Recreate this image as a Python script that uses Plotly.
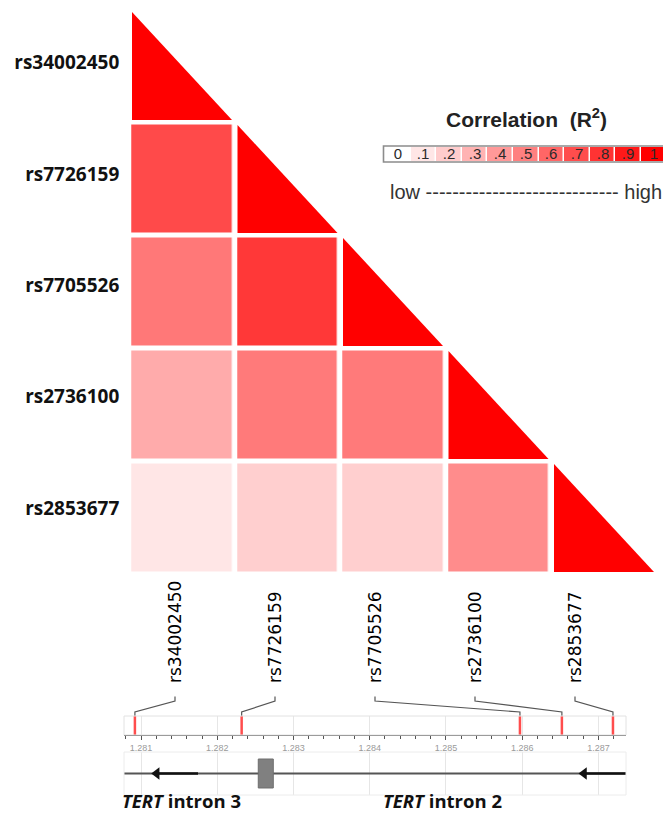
import plotly.graph_objects as go
from plotly.colors import sample_colorscale

# ---- data -------------------------------------------------------------
snps = ["rs34002450", "rs7726159", "rs7705526", "rs2736100", "rs2853677"]

# pairwise LD (R^2), lower triangle incl. diagonal; None = not drawn
ld_r2 = [
    [1.00, None, None, None, None],
    [0.71, 1.00, None, None, None],
    [0.53, 0.78, 1.00, None, None],
    [0.33, 0.52, 0.52, 1.00, None],
    [0.10, 0.19, 0.19, 0.45, 1.00],
]

# genomic positions (Mb, chr5)
snp_pos = [1.28092, 1.28232, 1.28597, 1.28652, 1.28719]
exons = [(1.282538, 1.282735)]
gene_span = (1.2530, 1.2950)
strand_arrows = [(1.281748, 1.281206), (1.287361, 1.286810)]  # (tail, head), minus strand

key_values = [0, 0.1, 0.2, 0.3, 0.4, 0.5, 0.6, 0.7, 0.8, 0.9, 1.0]
key_labels = ["0", ".1", ".2", ".3", ".4", ".5", ".6", ".7", ".8", ".9", "1"]

# ---- layout helpers ---------------------------------------------------
W, H = 663, 814
def fx(p):
    return p / W
def fy(p):
    return 1 - p / H

SCALE = [[0, "#ffffff"], [1, "#ff0000"]]
n = len(snps)

# matrix block geometry (pixels)
MX0, MX1 = 129.25, 656.75
MY0, MY1 = 9.5, 574.5
XGAP, YGAP = 5.5, 5.0
hx = (XGAP / 2) / ((MX1 - MX0) / n)
hy = (YGAP / 2) / ((MY1 - MY0) / n)

# genome track geometry
GX0, GX1 = 124, 626
G_RANGE = [1.280777, 1.287361]

fig = go.Figure()

# off-diagonal LD cells
z = [[(v if (v is not None and i != j) else None) for i, v in enumerate(row)]
     for j, row in enumerate(ld_r2)]
fig.add_trace(go.Heatmap(
    z=z, x=list(range(n)), y=list(range(n)),
    colorscale=SCALE, zmin=0, zmax=1, showscale=False,
    xgap=XGAP, ygap=YGAP, hoverinfo="skip",
    xaxis="x", yaxis="y",
))

# diagonal cells as lower-left triangles
for i in range(n):
    v = ld_r2[i][i]
    col = sample_colorscale(SCALE, [v])[0]
    l, r = i - 0.5 + hx, i + 0.5 - hx
    t, b = i - 0.5 + hy, i + 0.5 - hy
    fig.add_trace(go.Scatter(
        x=[l, l, r, l], y=[t, b, b, t], mode="lines",
        fill="toself", fillcolor=col, line=dict(width=0, color=col),
        hoverinfo="skip", showlegend=False, xaxis="x", yaxis="y",
    ))

# row-label axis carrier
fig.add_trace(go.Scatter(x=[None], y=[None], mode="markers", showlegend=False,
                         hoverinfo="skip", xaxis="x", yaxis="y7"))

# colour key
fig.add_trace(go.Heatmap(
    z=[key_values], x=list(range(len(key_values))), y=[0],
    text=[key_labels], texttemplate="%{text}",
    textfont=dict(family="Liberation Sans, Arial", size=15, color="#2a2a2a"),
    colorscale=SCALE, zmin=0, zmax=1, showscale=False,
    xgap=1.5, hoverinfo="skip", xaxis="x3", yaxis="y3",
))

# SNP marks on the genome axis
mx, my = [], []
for p in snp_pos:
    mx += [p, p, None]
    my += [0, 1, None]
fig.add_trace(go.Scatter(x=mx, y=my, mode="lines",
                         line=dict(color="#ff4d4d", width=2.5),
                         hoverinfo="skip", showlegend=False,
                         xaxis="x4", yaxis="y4"))

# leader lines from label slots to positions
LY0, LY1 = 695, 735
def ly(p):
    return (LY1 - p) / (LY1 - LY0)
slot_lo = G_RANGE[0] + (175 - GX0) / (GX1 - GX0) * (G_RANGE[1] - G_RANGE[0])
slot_hi = G_RANGE[0] + (575 - GX0) / (GX1 - GX0) * (G_RANGE[1] - G_RANGE[0])
slots = [slot_lo + k * (slot_hi - slot_lo) / (n - 1) for k in range(n)]
for p, s in zip(snp_pos, slots):
    fig.add_trace(go.Scatter(
        x=[p, p, s, s], y=[ly(716), ly(712), ly(701), ly(696.5)],
        mode="lines", line=dict(color="#555555", width=1.2),
        hoverinfo="skip", showlegend=False, xaxis="x6", yaxis="y6"))

# gene model: intron line
fig.add_trace(go.Scatter(x=list(gene_span), y=[0.5, 0.5], mode="lines",
                         line=dict(color="#555555", width=2),
                         hoverinfo="skip", showlegend=False,
                         xaxis="x5", yaxis="y5"))

# strand direction arrows
for (tail, head) in strand_arrows:
    fig.add_trace(go.Scatter(x=[tail, head], y=[0.5, 0.5], mode="lines",
                             line=dict(color="#111111", width=2.5),
                             hoverinfo="skip", showlegend=False,
                             xaxis="x5", yaxis="y5"))
    fig.add_trace(go.Scatter(x=[head], y=[0.5], mode="markers",
                             marker=dict(symbol="triangle-left", size=11,
                                         color="#111111", line=dict(width=0)),
                             hoverinfo="skip", showlegend=False,
                             xaxis="x5", yaxis="y5"))

shapes = []
for (a, b) in exons:
    shapes.append(dict(type="rect", xref="x5", yref="y5", x0=a, x1=b,
                       y0=0.163, y1=0.837, fillcolor="#808080",
                       line=dict(color="#6e6e6e", width=1), layer="above"))
# panel frames
shapes.append(dict(type="rect", xref="x4 domain", yref="y4 domain",
                   x0=0, x1=1, y0=0, y1=1, line=dict(color="#e2e2e2", width=1)))
shapes.append(dict(type="rect", xref="x5 domain", yref="y5 domain",
                   x0=0, x1=1, y0=0, y1=1, line=dict(color="#ececec", width=1)))
# key frame
shapes.append(dict(type="rect", xref="paper", yref="paper",
                   x0=fx(383.5), x1=fx(668), y0=fy(162), y1=fy(146),
                   line=dict(color="#8c8c8c", width=1.6)))

annotations = []

# rotated SNP names above the genome track
for name, s in zip(snps, slots):
    annotations.append(dict(x=s, y=fy(685), xref="x6", yref="paper",
                            text=name, textangle=-90, showarrow=False,
                            xanchor="center", yanchor="bottom",
                            font=dict(family="DejaVu Sans", size=17, color="#000000")))

annotations += [
    dict(x=fx(526), y=fy(118), xref="paper", yref="paper", showarrow=False,
         text="<b>Correlation  (R<sup>2</sup>)</b>", xanchor="center", yanchor="middle",
         font=dict(family="Liberation Sans, Arial", size=21, color="#222222")),
    dict(x=fx(388), y=fy(192), xref="paper", yref="paper", showarrow=False,
         text="low " + "-" * 29 + " high", xanchor="left", yanchor="middle",
         font=dict(family="Liberation Sans, Arial", size=20, color="#333333")),
    dict(x=fx(121), y=0, xref="paper", yref="paper", showarrow=False,
         text="<b><i>TERT</i> intron 3</b>", xanchor="left", yanchor="bottom",
         borderpad=0,
         font=dict(family="Open Sans", size=18.5, color="#111111")),
    dict(x=fx(382), y=0, xref="paper", yref="paper", showarrow=False,
         text="<b><i>TERT</i> intron 2</b>", xanchor="left", yanchor="bottom",
         borderpad=0,
         font=dict(family="Open Sans", size=18.5, color="#111111")),
]

hidden = dict(visible=False, showgrid=False, zeroline=False)

fig.update_layout(
    width=W, height=H, margin=dict(l=0, r=0, t=0, b=0),
    paper_bgcolor="white", plot_bgcolor="rgba(0,0,0,0)",
    hovermode=False, showlegend=False,
    xaxis=dict(domain=[fx(MX0), fx(MX1)], range=[-0.5, n - 0.5], **hidden),
    yaxis=dict(domain=[fy(MY1), fy(MY0)], range=[n - 0.5, -0.5], anchor="x", **hidden),
    yaxis7=dict(domain=[fy(563.7), fy(6.8)], range=[n - 0.5, -0.5], anchor="x",
                tickvals=list(range(n)), ticktext=[f"<b>{s}</b>" for s in snps],
                tickfont=dict(family="Open Sans", size=19, color="#111111"),
                ticks="", showgrid=False, zeroline=False, showline=False,
                ticklabelstandoff=9),
    xaxis3=dict(domain=[fx(385), 1], range=[-0.5, -0.5 + (W - 385) / 25.6],
                anchor="y3", **hidden),
    yaxis3=dict(domain=[fy(161), fy(147)], range=[-0.5, 0.5], anchor="x3", **hidden),
    xaxis4=dict(domain=[fx(GX0), fx(GX1)], range=G_RANGE, anchor="y4",
                tick0=1.281, dtick=0.001, tickformat=".3f",
                ticks="outside", ticklen=4, tickcolor="#555555", tickwidth=1,
                showline=True, linecolor="#555555", linewidth=1,
                tickfont=dict(family="Liberation Sans, Arial", size=9, color="#9a9a9a"),
                showgrid=True, gridcolor="#e6e6e6", gridwidth=1, zeroline=False,
                minor=dict(dtick=0.0002, tick0=1.281, ticks="outside", ticklen=3,
                           tickcolor="#555555", showgrid=False)),
    yaxis4=dict(domain=[fy(735), fy(716)], range=[0, 1], anchor="x4", **hidden),
    xaxis5=dict(domain=[fx(GX0), fx(GX1)], matches="x4", anchor="y5",
                showticklabels=False, ticks="", showline=False,
                showgrid=True, gridcolor="#e6e6e6", gridwidth=1, zeroline=False),
    yaxis5=dict(domain=[fy(795), fy(752)], range=[0, 1], anchor="x5", **hidden),
    xaxis6=dict(domain=[fx(GX0), fx(GX1)], matches="x4", anchor="y6", **hidden),
    yaxis6=dict(domain=[fy(LY1), fy(LY0)], range=[0, 1], anchor="x6", **hidden),
    shapes=shapes,
    annotations=annotations,
)

fig.write_html("out.html")
